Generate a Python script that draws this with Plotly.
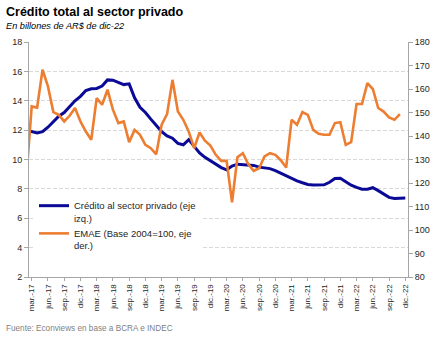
import plotly.graph_objects as go

# ---------------- data ----------------
MONTH_ABBR = ["ene.", "feb.", "mar.", "abr.", "may.", "jun.",
              "jul.", "ago.", "sep.", "oct.", "nov.", "dic."]
months = []
for yy in range(17, 23):
    for mi, m in enumerate(MONTH_ABBR):
        if yy == 17 and mi < 1:
            continue
        months.append(f"{m}-{yy}")   # feb.-17 ... dic.-22

credito = [11.9,
           11.9, 11.8, 11.9, 12.2, 12.6, 12.95, 13.2, 13.6, 14.0, 14.3,
           14.7, 14.82, 14.84, 15.0, 15.42, 15.4, 15.23, 15.1, 15.15, 14.2,
           13.55, 13.2, 12.75, 12.35, 11.9, 11.6, 11.45, 11.1, 11.0, 11.35,
           10.9, 10.45, 10.15, 9.9, 9.65, 9.45, 9.3, 9.55, 9.68, 9.65,
           9.64, 9.6, 9.48, 9.45, 9.38, 9.25, 9.07, 8.9, 8.68, 8.55,
           8.42, 8.3, 8.27, 8.27, 8.28, 8.45, 8.7, 8.72, 8.5, 8.25,
           8.1, 7.98, 7.98, 8.08, 7.88, 7.65, 7.42, 7.35, 7.37, 7.38]

emae = [122.0,
        152.6, 152.1, 168.2, 161.1, 150.2, 149.0, 146.2, 148.6, 151.9, 146.2,
        141.9, 138.4, 156.1, 153.3, 159.7, 151.2, 145.5, 146.2, 137.4, 142.6,
        140.5, 136.2, 134.8, 132.2, 144.8, 149.3, 163.9, 150.4, 146.9, 141.9,
        134.8, 141.5, 138.0, 135.9, 132.0, 129.4, 129.4, 111.8, 131.0, 132.7,
        128.0, 125.2, 126.3, 131.3, 132.7, 132.0, 129.7, 126.6, 146.9, 144.8,
        150.2, 149.0, 142.6, 140.9, 140.5, 140.5, 145.5, 145.9, 136.2, 137.4,
        153.6, 153.6, 162.5, 160.0, 151.9, 150.4, 147.9, 146.9, 149.3, None]

tick_labels = [m for m in months if m.split("-")[0] in ("mar.", "jun.", "sep.", "dic.")]

name_credito = "Crédito al sector privado (eje<br>izq.)"
name_emae = "EMAE (Base 2004=100, eje<br>der.)"

# ---------------- figure ----------------
FONT = "Liberation Sans, Arial, sans-serif"
fig = go.Figure()
fig.add_trace(go.Scatter(x=months, y=credito, name=name_credito, mode="lines",
                         line=dict(color="#0a0a96", width=3), yaxis="y"))
fig.add_trace(go.Scatter(x=months, y=emae, name=name_emae, mode="lines",
                         line=dict(color="#ED7D31", width=2.6), yaxis="y2"))

L, R, T, B = 29, 34, 42, 63
PW, PH = 442 - L - R, 340 - T - B

def px(xp):
    return (xp - L) / PW

def py(yp):
    return (340 - B - yp) / PH

fig.update_layout(
    width=442, height=340,
    margin=dict(l=L, r=R, t=T, b=B, pad=0),
    paper_bgcolor="white", plot_bgcolor="white",
    font=dict(family=FONT, size=9, color="#404040"),
    showlegend=True,
    legend=dict(x=px(34), y=py(193), xanchor="left", yanchor="top",
                bgcolor="white", borderwidth=0, valign="top",
                font=dict(family=FONT, size=9.5, color="#262626"),
                tracegroupgap=0, itemwidth=30),
    xaxis=dict(type="category", range=[0.5, len(months) - 0.5],
               tickmode="array", tickvals=tick_labels, ticktext=tick_labels,
               tickangle=-90, tickfont=dict(family=FONT, size=8, color="#262626"),
               showline=True, linecolor="#a6a6a6", linewidth=1,
               ticks="outside", ticklen=3, tickcolor="#a6a6a6",
               showgrid=False, zeroline=False, fixedrange=True),
    yaxis=dict(range=[2, 18], dtick=2, tick0=2,
               tickfont=dict(family=FONT, size=9, color="#262626"),
               showline=True, linecolor="#a6a6a6", linewidth=1,
               ticks="outside", ticklen=4, tickcolor="#a6a6a6",
               showgrid=True, gridcolor="#d9d9d9", gridwidth=1, griddash="4px,2px",
               zeroline=False),
    yaxis2=dict(range=[80, 180], dtick=10, tick0=80, overlaying="y", side="right",
                tickfont=dict(family=FONT, size=9, color="#262626"),
                showline=True, linecolor="#a6a6a6", linewidth=1,
                ticks="outside", ticklen=4, tickcolor="#a6a6a6",
                showgrid=False, zeroline=False),
    annotations=[
        dict(text="<b>Crédito total al sector privado</b>", xref="paper", yref="paper",
             x=px(4), y=py(12), xanchor="left", yanchor="middle", showarrow=False,
             font=dict(family=FONT, size=12.5, color="#000000")),
        dict(text="<i>En billones de AR$ de dic-22</i>", xref="paper", yref="paper",
             x=px(4), y=py(25.5), xanchor="left", yanchor="middle", showarrow=False,
             font=dict(family=FONT, size=9.2, color="#000000")),
        dict(text="Fuente: Econviews en base a BCRA e INDEC", xref="paper", yref="paper",
             x=px(4), y=py(328), xanchor="left", yanchor="middle", showarrow=False,
             font=dict(family=FONT, size=8.2, color="#7f7f7f")),
    ],
)

fig.write_html("out.html")
